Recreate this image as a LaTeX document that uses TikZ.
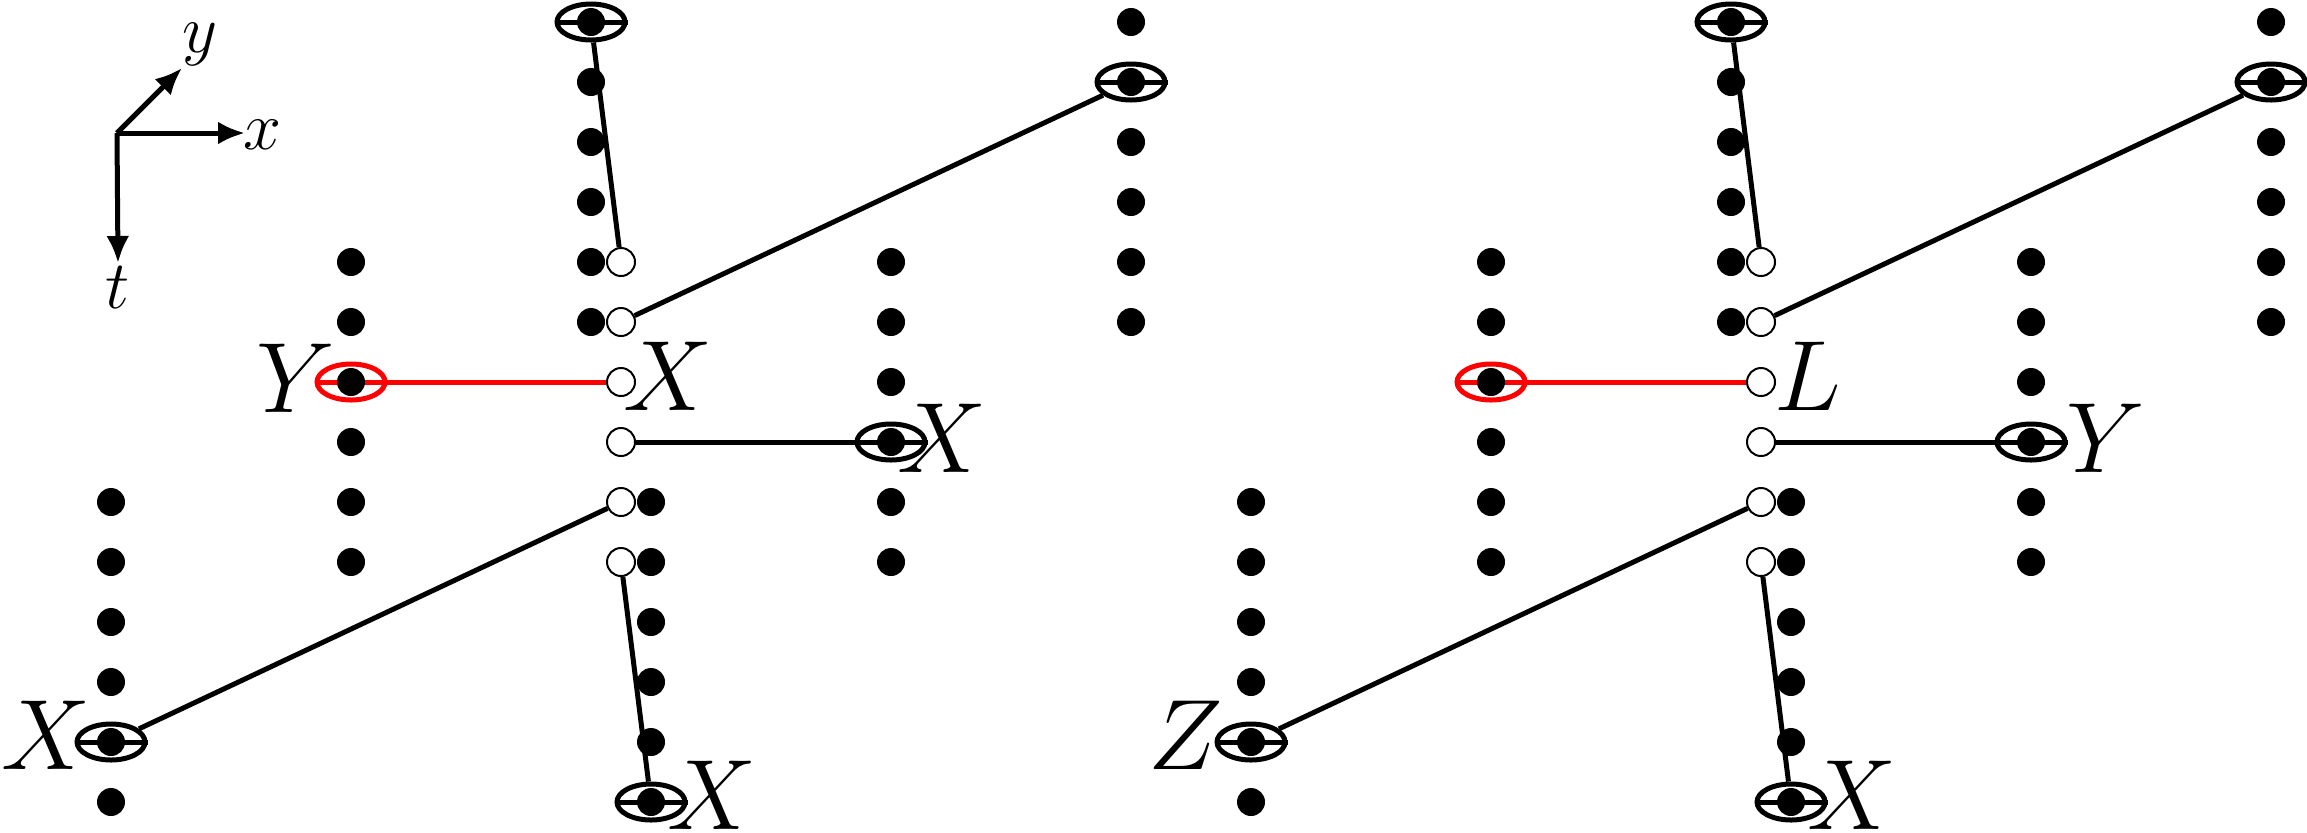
\documentclass[tikz,border=0pt]{standalone}
\usepackage{graphicx}
\usetikzlibrary{shapes.geometric,arrows.meta}
% math labels enlarged beyond the largest preset size (24.88pt)
\newcommand\sitelabel[1]{\scalebox{2.01}{$#1$}}
\newcommand\axislabel[1]{\scalebox{1.37}{$#1$}}
\begin{document}
\begin{tikzpicture}[x=0.5pt,y=-0.5pt,
  dot/.style={circle,fill=black,inner sep=0pt,minimum size=14pt},
  hole/.style={circle,draw=black,fill=white,line width=1pt,inner sep=0pt,minimum size=14pt},
  ring/.style={ellipse,draw=#1,line width=2.5pt,inner sep=0pt,minimum width=34pt,minimum height=18pt},
  ring/.default=black,
  bond/.style={line width=2.5pt,draw=#1},
  bond/.default=black,
  lbl/.style={inner sep=0pt,font=\Huge},
  axlbl/.style={inner sep=0pt,font=\Huge},
  axis/.style={line width=2.5pt,-{Latex[length=13.5pt,width=11.5pt]}}
]
\useasboundingbox (0,0) rectangle (2307,832);

% coordinate axes
\coordinate (o) at (117,133);
\coordinate (ax) at (245,133);
\coordinate (ay) at (182,68);
\coordinate (at) at (118,263);
\draw[axis] (o) -- (ax);
\draw[axis] (o) -- (ay);
\draw[axis] (o) -- (at);
\node[axlbl] (lx) at (262,135) {\axislabel{x}};
\node[axlbl] (ly) at (200,44) {\axislabel{y}};
\node[axlbl] (lt) at (118,288) {\axislabel{t}};

\foreach \p/\dx in {l/0,r/1140}{
  % marked sites: ring with a bar through it
  \foreach \t/\cx/\row/\col in {C0/591/0/black, F1/1131/1/black, B6/351/6/red,
                               E7/891/7/black, A12/111/12/black, D13/651/13/black}{
    \node[ring=\col] (\p-m\t) at ({\cx+\dx},{22+60*\row}) {};
    \draw[bond=\col] (\p-m\t.west) -- (\p-m\t.east);
  }
  % columns of lattice sites
  \foreach \c/\cx/\r in {A/111/8, B/351/4, C/591/0, D/651/8, E/891/4, F/1131/0}{
    \foreach \k in {0,...,5}{
      \pgfmathtruncatemacro{\row}{\r+\k}
      \node[dot] (\p-\c\row) at ({\cx+\dx},{22+60*\row}) {};
    }
  }
  % open sites in the middle
  \foreach \k in {4,...,9}
    \node[hole] (\p-o\k) at ({621+\dx},{22+60*\k}) {};
  % bonds
  \draw[bond] (\p-o4) -- (\p-mC0);
  \draw[bond] (\p-o5) -- (\p-mF1);
  \draw[bond=red] (\p-o6) -- (\p-mB6);
  \draw[bond] (\p-o7) -- (\p-mE7);
  \draw[bond] (\p-o8) -- (\p-mA12);
  \draw[bond] (\p-o9) -- (\p-mD13);
}

% labels
\node[lbl] (ll1) at (296,378) {\sitelabel{Y}};
\node[lbl] (ll2) at (668,376) {\sitelabel{X}};
\node[lbl] (ll3) at (942,438) {\sitelabel{X}};
\node[lbl] (ll4) at (46,735) {\sitelabel{X}};
\node[lbl] (ll5) at (712,795) {\sitelabel{X}};
\node[lbl] (lr1) at (1808,376) {\sitelabel{L}};
\node[lbl] (lr2) at (2106,438) {\sitelabel{Y}};
\node[lbl] (lr3) at (1186,735) {\sitelabel{Z}};
\node[lbl] (lr4) at (1852,795) {\sitelabel{X}};
\end{tikzpicture}
\end{document}
